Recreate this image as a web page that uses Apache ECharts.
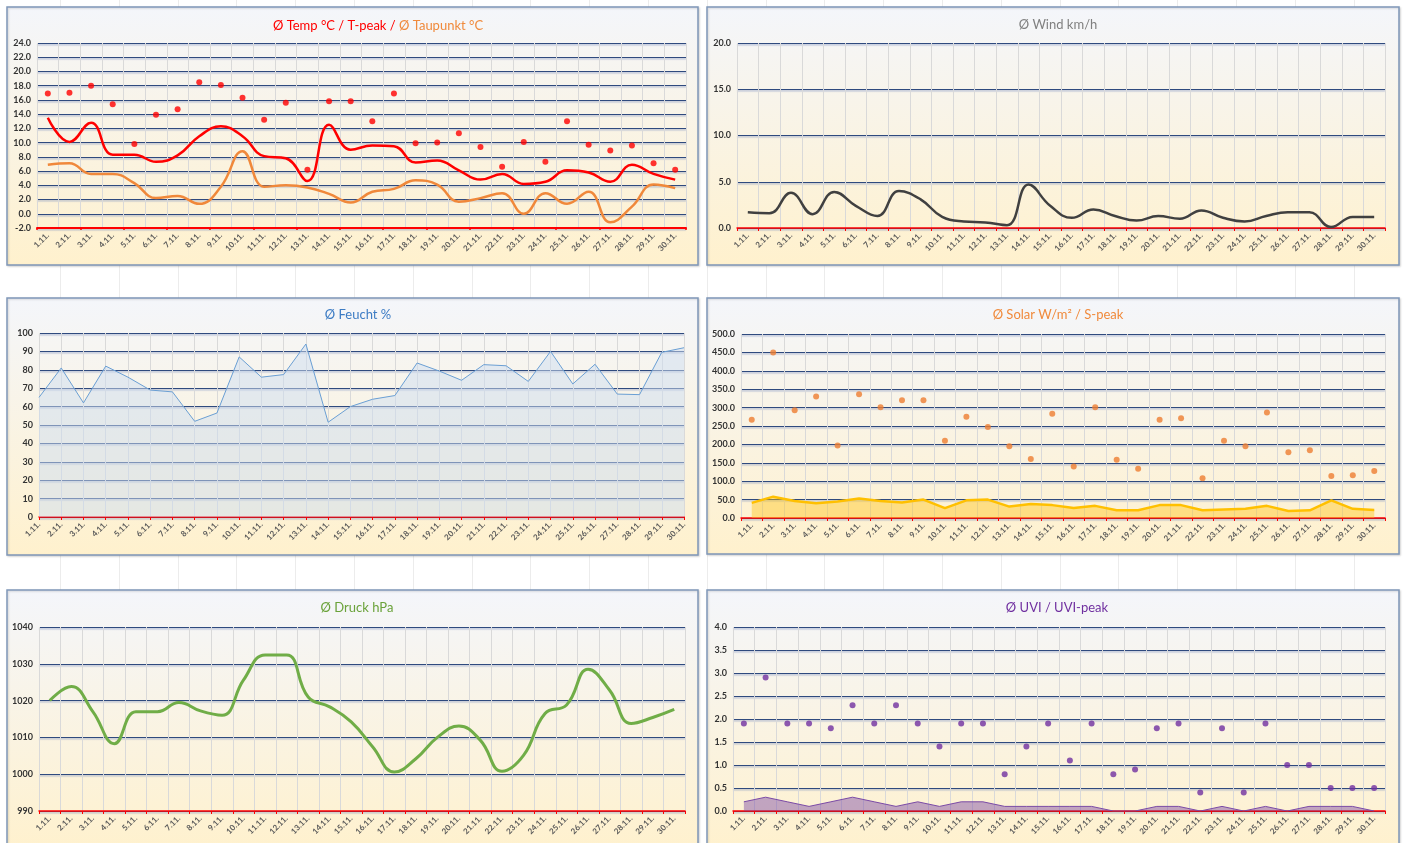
<!DOCTYPE html>
<html><head><meta charset="utf-8">
<script src="https://cdn.jsdelivr.net/npm/echarts@6/dist/echarts.min.js"></script>
<style>html,body{margin:0;padding:0;background:#fff}#c{width:1403px;height:843px}</style>
</head><body><div id="c"></div>
<script>
const days = ['1.11.','2.11.','3.11.','4.11.','5.11.','6.11.','7.11.','8.11.','9.11.','10.11.','11.11.','12.11.','13.11.','14.11.','15.11.','16.11.','17.11.','18.11.','19.11.','20.11.','21.11.','22.11.','23.11.','24.11.','25.11.','26.11.','27.11.','28.11.','29.11.','30.11.'];
const tempAvg = [13.5,10.1,12.8,8.3,8.3,7.3,8.2,10.9,12.3,10.9,8.1,7.8,4.6,12.5,9.0,9.6,9.5,7.2,7.5,6.1,4.8,5.6,4.2,4.5,6.1,5.8,4.5,6.9,5.6,4.8];
const tempPeak = [16.9,17.0,18.0,15.4,9.8,13.9,14.7,18.5,18.1,16.3,13.2,15.6,6.2,15.8,15.8,13.0,16.9,9.9,10.0,11.3,9.4,6.6,10.1,7.3,13.0,9.7,8.9,9.6,7.1,6.2];
const dewPoint = [6.9,7.1,5.6,5.6,4.3,2.2,2.5,1.4,3.8,8.8,3.8,4.0,3.7,2.8,1.6,3.1,3.5,4.7,4.1,1.7,2.2,2.9,0.0,2.9,1.4,3.1,-1.2,1.0,4.1,3.6];
const windAvg = [1.7,1.6,3.8,1.5,3.9,2.4,1.3,4.0,3.1,1.2,0.7,0.6,0.3,4.7,2.4,1.1,2.0,1.3,0.8,1.3,1.0,1.9,1.1,0.7,1.3,1.7,1.7,0.1,1.2,1.2];
const humidity = [65,81,62,82,76,69,68,52,56.5,87,76,77.4,94,51.5,60,64,66,83.7,79.3,74.3,82.8,82.2,73.7,90,72.3,83,66.8,66.5,89.5,92];
const solarAvg = [41,58,46,40,45,53,46,42,50,27,48,50,31,38,35,27,33,21,21,35,35,21,23,25,33,19,21,48,25,22];
const solarPeak = [267,450,293,330,197,336,301,320,320,210,275,247,195,160,283,140,301,158,134,267,271,108,210,195,287,179,184,114,116,128];
const pressure = [1020,1023.8,1017,1008.3,1017,1017,1019.5,1017.2,1016,1025.6,1032.4,1032.4,1021,1018.3,1014.2,1007.4,1000.6,1004.2,1010,1013.1,1009.2,1000.8,1005.1,1016.5,1018.8,1028.5,1022.8,1013.8,1015.4,1017.6];
const uviAvg = [0.2,0.3,0.2,0.1,0.2,0.3,0.2,0.1,0.2,0.1,0.2,0.2,0.1,0.1,0.1,0.1,0.1,0.0,0.0,0.1,0.1,0.0,0.1,0.0,0.1,0.0,0.1,0.1,0.1,0.0];
const uviPeak = [1.9,2.9,1.9,1.9,1.8,2.3,1.9,2.3,1.9,1.4,1.9,1.9,0.8,1.4,1.9,1.1,1.9,0.8,0.9,1.8,1.9,0.4,1.8,0.4,1.9,1.0,1.0,0.5,0.5,0.5];

const FONT = 'Lato';
const grids = [
  {left:37, top:43, width:649, height:185},
  {left:737, top:43, width:648, height:185},
  {left:39, top:333, width:645, height:184},
  {left:741, top:334, width:644, height:184},
  {left:39, top:627, width:646, height:184},
  {left:733, top:627, width:652, height:184}
];
const panels = [
  {x:7,y:7,w:691,h:258},{x:707,y:7,w:692,h:258},
  {x:7,y:298,w:691,h:257},{x:707,y:298,w:692,h:256},
  {x:7,y:590,w:691,h:262},{x:707,y:590,w:692,h:262}
];
const gridLine = {color:'#2f4a7e', width:1.2, shadowColor:'rgba(120,140,190,0.5)', shadowBlur:1, shadowOffsetY:1.3};

function xAx(i, opts) {
  return Object.assign({
    type:'category', gridIndex:i, data:days, boundaryGap:true,
    axisLine:{show:true, onZero:false, lineStyle:{color:'#ff0000', width:1.5}},
    axisTick:{show:true, length:3, lineStyle:{color:'#ff0000'}},
    splitLine:{show:true, lineStyle:{color:'#d9d9d9', width:1}},
    axisLabel:{interval:0, rotate:45, fontSize:8, fontWeight:'bold', color:'#595959', fontFamily:FONT, margin:6}
  }, opts || {});
}
function yAx(i, min, max, interval, dec) {
  return {
    type:'value', gridIndex:i, min:min, max:max, interval:interval,
    axisLine:{show:false}, axisTick:{show:false},
    splitLine:{show:true, lineStyle:gridLine},
    axisLabel:{fontSize:9, fontWeight:'bold', color:'#333', fontFamily:FONT, margin:6,
      formatter: v => dec ? v.toFixed(1) : String(v)}
  };
}

const graphic = [];
for (let x = 60; x < 1403; x += 58.8) {
  graphic.push({type:'line', z:-200, silent:true, shape:{x1:Math.round(x)+0.5,y1:0,x2:Math.round(x)+0.5,y2:843}, style:{stroke:'#ececec', lineWidth:1}});
}
panels.forEach(p => {
  graphic.push({type:'rect', z:-100, silent:true, shape:{x:p.x, y:p.y, width:p.w, height:p.h},
    style:{fill:{type:'linear', x:0, y:0, x2:0, y2:1, colorStops:[{offset:0,color:'#f4f6fb'},{offset:1,color:'#fff1cd'}]},
      stroke:'#7f97b8', lineWidth:1.5, shadowColor:'rgba(0,0,0,0.15)', shadowBlur:2, shadowOffsetX:1, shadowOffsetY:1}});
});

function ts(color) { return {fontFamily:FONT, fontSize:13, fontWeight:'normal', color:color}; }
const titles = [
  {textAlign:'center', left:373, top:14, text:'{a|Ø Temp °C / T-peak / }{b|Ø Taupunkt °C}',
    textStyle:{fontFamily:FONT, fontSize:13, fontWeight:'normal', rich:{
      a:{color:'#ff0000', fontFamily:FONT, fontSize:13, fontWeight:'normal'},
      b:{color:'#f08a3c', fontFamily:FONT, fontSize:13, fontWeight:'normal'}}}},
  {textAlign:'center', left:1053, top:13, text:'Ø Wind km/h', textStyle:ts('#808080')},
  {textAlign:'center', left:353, top:303, text:'Ø Feucht %', textStyle:ts('#3d7cc4')},
  {textAlign:'center', left:1053, top:303, text:'Ø Solar W/m² / S-peak', textStyle:ts('#f08a3c')},
  {textAlign:'center', left:352, top:596, text:'Ø Druck hPa', textStyle:ts('#6aa23a')},
  {textAlign:'center', left:1052, top:596, text:'Ø UVI / UVI-peak', textStyle:ts('#7030a0')}
];

const option = {
  animation:false,
  backgroundColor:'#ffffff',
  graphic: graphic,
  title: titles,
  grid: grids,
  xAxis: [
    xAx(0, {axisLine:{show:false}, axisTick:{show:false}}),
    xAx(1),
    xAx(2, {boundaryGap:false}),
    xAx(3),
    xAx(4),
    xAx(5),
    {type:'category', gridIndex:0, data:days, position:'bottom',
      axisLine:{show:true, onZero:true, lineStyle:{color:'#ff0000', width:2}},
      axisTick:{show:true, length:2, lineStyle:{color:'#ff0000', width:1.5}},
      axisLabel:{show:false}, splitLine:{show:false}}
  ],
  yAxis: [
    yAx(0, -2, 24, 2, true),
    yAx(1, 0, 20, 5, true),
    yAx(2, 0, 100, 10, false),
    yAx(3, 0, 500, 50, true),
    yAx(4, 990, 1040, 10, false),
    yAx(5, 0, 4, 0.5, true)
  ],
  series: [
    {name:'Taupunkt', type:'line', xAxisIndex:0, yAxisIndex:0, data:dewPoint, smooth:0.45, showSymbol:false,
      lineStyle:{color:'#f0883a', width:2.5}, z:3},
    {name:'Temp', type:'line', xAxisIndex:0, yAxisIndex:0, data:tempAvg, smooth:0.45, showSymbol:false,
      lineStyle:{color:'#ff0000', width:2.5}, z:4},
    {name:'T-peak', type:'scatter', xAxisIndex:0, yAxisIndex:0, data:tempPeak, symbolSize:6,
      itemStyle:{color:'#ff0000'}, z:5},

    {name:'Wind', type:'line', xAxisIndex:1, yAxisIndex:1, data:windAvg, smooth:0.45, showSymbol:false,
      lineStyle:{color:'#404040', width:2.5}},

    {name:'Feucht', type:'line', xAxisIndex:2, yAxisIndex:2, data:humidity, smooth:false, showSymbol:false,
      lineStyle:{color:'#6a9fd4', width:1}, areaStyle:{color:'rgba(205,222,242,0.72)'}},

    {name:'Solar', type:'line', xAxisIndex:3, yAxisIndex:3, data:solarAvg, smooth:false, showSymbol:false,
      lineStyle:{color:'#ffc000', width:2.5}, areaStyle:{color:'rgba(255,196,20,0.6)'}},
    {name:'S-peak', type:'scatter', xAxisIndex:3, yAxisIndex:3, data:solarPeak, symbolSize:6,
      itemStyle:{color:'#ed7d31'}},

    {name:'Druck', type:'line', xAxisIndex:4, yAxisIndex:4, data:pressure, smooth:0.45, showSymbol:false,
      lineStyle:{color:'#70ad47', width:3}},

    {name:'UVI', type:'line', xAxisIndex:5, yAxisIndex:5, data:uviAvg, smooth:false, showSymbol:false,
      lineStyle:{color:'#7a4aa6', width:1}, areaStyle:{color:'rgba(120,70,165,0.65)'}},
    {name:'UVI-peak', type:'scatter', xAxisIndex:5, yAxisIndex:5, data:uviPeak, symbolSize:6,
      itemStyle:{color:'#7030a0'}}
  ]
};
const chart = echarts.init(document.getElementById('c'), null, {renderer:'canvas'});
chart.setOption(option);
</script></body></html>
